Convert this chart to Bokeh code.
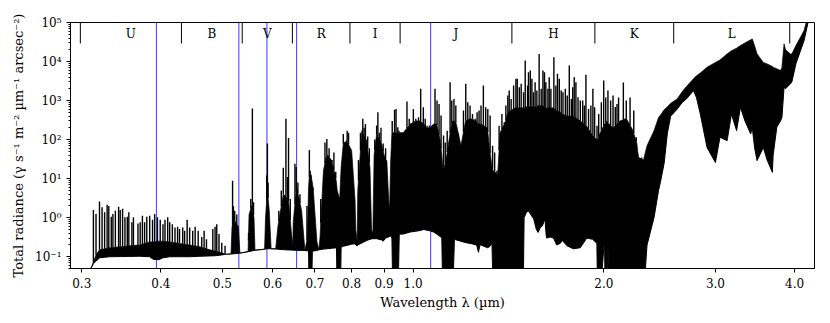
import numpy as np
from bokeh.plotting import figure
from bokeh.models import Range1d, FixedTicker, CustomJSTickFormatter, Span
from bokeh.embed import file_html
from bokeh.resources import INLINE
from bokeh.core.properties import value

# ---------------- data ----------------
# wavelength grid (um), lower edge (continuum / absorption) and top of the dense line forest
wl = [0.3085, 0.311, 0.313, 0.316, 0.318, 0.320, 0.332, 0.345, 0.357, 0.370, 0.384, 0.389, 0.397, 0.403,
      0.413, 0.4285, 0.444, 0.461, 0.478, 0.487, 0.496, 0.504, 0.508, 0.516, 0.518, 0.524, 0.530, 0.533,
      0.549, 0.551, 0.556, 0.561, 0.563, 0.583, 0.585, 0.589, 0.593, 0.597, 0.607, 0.612, 0.624, 0.630,
      0.636, 0.643, 0.646, 0.647, 0.655, 0.667, 0.675, 0.681, 0.684, 0.6855, 0.688, 0.6915, 0.6935, 0.696,
      0.705, 0.710, 0.713, 0.722, 0.731, 0.744, 0.753, 0.757, 0.759, 0.766, 0.768, 0.770, 0.776, 0.786,
      0.800, 0.810, 0.812, 0.816, 0.818, 0.830, 0.845, 0.855, 0.860, 0.864, 0.868, 0.876, 0.892, 0.897,
      0.905, 0.909, 0.915, 0.918, 0.922, 0.926, 0.929, 0.942, 0.947, 0.951, 0.965, 0.990, 1.010, 1.026,
      1.040, 1.050, 1.064, 1.077, 1.090, 1.103, 1.110, 1.114, 1.120, 1.130, 1.150, 1.155, 1.162, 1.170,
      1.190, 1.210, 1.230, 1.260, 1.268, 1.275, 1.280, 1.310, 1.320, 1.332, 1.338, 1.360, 1.372, 1.400,
      1.410, 1.450, 1.476, 1.492, 1.497, 1.510, 1.520, 1.550, 1.565, 1.575, 1.587, 1.600, 1.615, 1.622,
      1.625, 1.645, 1.666, 1.685, 1.707, 1.720, 1.750, 1.790, 1.836, 1.880, 1.920, 1.950, 1.955, 1.974,
      2.005, 2.010, 2.020, 2.030, 2.040, 2.070, 2.120, 2.170, 2.220, 2.255, 2.262, 2.270, 2.310, 2.340,
      2.400, 2.440, 2.456, 2.490, 2.520, 2.550, 2.610, 2.660, 2.700, 2.770, 2.800, 2.840, 2.910, 3.000,
      3.050, 3.130, 3.180, 3.240, 3.285, 3.340, 3.410, 3.430, 3.460, 3.490, 3.570, 3.620, 3.690, 3.700,
      3.750, 3.800, 3.820, 3.850, 3.870, 3.940, 3.960, 4.020, 4.140, 4.200]
low = [0.045, 0.055, 0.066, 0.078, 0.084, 0.094, 0.100, 0.101, 0.102, 0.103, 0.100, 0.086, 0.084, 0.094,
       0.100, 0.100, 0.100, 0.103, 0.105, 0.106, 0.110, 0.114, 0.116, 0.118, 0.118, 0.120, 0.122, 0.124,
       0.135, 0.136, 0.140, 0.145, 0.147, 0.156, 0.157, 0.160, 0.160, 0.160, 0.158, 0.156, 0.152, 0.150,
       0.149, 0.148, 0.147, 0.147, 0.146, 0.145, 0.144, 0.142, 0.140, 0.01, 0.01, 0.01, 0.140, 0.140,
       0.145, 0.150, 0.152, 0.157, 0.160, 0.165, 0.168, 0.170, 0.01, 0.01, 0.01, 0.180, 0.185, 0.195,
       0.210, 0.215, 0.200, 0.190, 0.200, 0.225, 0.260, 0.280, 0.285, 0.290, 0.290, 0.290, 0.270, 0.250,
       0.300, 0.310, 0.320, 0.330, 0.340, 0.300, 0.01, 0.01, 0.01, 0.380, 0.380, 0.430, 0.450, 0.470,
       0.500, 0.480, 0.460, 0.430, 0.380, 0.330, 0.300, 0.01, 0.01, 0.01, 0.01, 0.01, 0.280, 0.270,
       0.250, 0.230, 0.220, 0.200, 0.130, 0.200, 0.200, 0.170, 0.180, 0.220, 0.01, 0.01, 0.01, 0.01,
       0.01, 0.01, 0.01, 0.01, 1.0, 1.37, 1.5, 0.93, 0.5, 0.42, 0.55, 0.62, 0.93, 0.35,
       0.30, 0.32, 0.30, 0.20, 0.22, 0.26, 0.19, 0.16, 0.17, 0.30, 0.28, 0.22, 0.01, 0.01,
       0.30, 0.01, 0.01, 0.20, 0.01, 0.01, 0.01, 0.01, 0.01, 0.01, 0.14, 0.01, 0.01, 0.20,
       1.0, 5.0, 8.0, 25.0, 150.0, 400.0, 600.0, 900.0, 1100.0, 1800.0, 1200.0, 450.0, 63.0, 26.0,
       115.0, 94.0, 450.0, 170.0, 670.0, 300.0, 140.0, 200.0, 60.0, 29.0, 63.0, 30.0, 14.5, 40.0,
       210.0, 300.0, 370.0, 2200.0, 2000.0, 2700.0, 3000.0, 8900.0, 34500.0, 100000.0]
top = [0.045, 0.055, 0.075, 0.11, 0.13, 0.15, 0.17, 0.18, 0.19, 0.20, 0.24, 0.24, 0.25, 0.25,
       0.24, 0.22, 0.20, 0.18, 0.15, 0.14, 0.13, 0.12, 0.116, 0.118, 0.60, 0.80, 0.60, 0.124,
       0.135, 1.2, 2.0, 1.0, 0.147, 0.156, 1.0, 5.0, 1.5, 0.16, 0.16, 0.6, 4.0, 3.5,
       2.7, 0.38, 0.2, 0.8, 6.0, 1.5, 0.144, 0.3, 6.0, 10.0, 16.0, 10.0, 8.0, 5.0,
       0.25, 0.15, 0.3, 16.0, 43.0, 29.0, 13.0, 8.0, 5.0, 3.0, 8.0, 20.0, 78.0, 94.0,
       52.0, 2.7, 0.5, 0.25, 5.0, 170.0, 94.0, 19.0, 0.5, 0.4, 40.0, 140.0, 78.0, 50.0,
       30.0, 29.0, 3.0, 1.5, 30.0, 150.0, 150.0, 150.0, 150.0, 150.0, 150.0, 250.0, 300.0, 300.0,
       250.0, 200.0, 200.0, 250.0, 250.0, 100.0, 40.0, 19.0, 19.0, 40.0, 250.0, 300.0, 300.0, 250.0,
       70.0, 300.0, 350.0, 300.0, 250.0, 250.0, 250.0, 200.0, 60.0, 20.0, 16.0, 13.0, 150.0, 300.0,
       500.0, 650.0, 650.0, 650.0, 650.0, 700.0, 700.0, 700.0, 700.0, 750.0, 750.0, 750.0, 700.0, 650.0,
       650.0, 650.0, 650.0, 550.0, 500.0, 450.0, 400.0, 400.0, 300.0, 220.0, 130.0, 100.0, 100.0, 150.0,
       250.0, 250.0, 300.0, 250.0, 250.0, 200.0, 300.0, 350.0, 180.0, 80.0, 50.0, 35.0, 30.0, 70.0,
       170.0, 370.0, 420.0, 580.0, 700.0, 850.0, 1100.0, 1700.0, 2300.0, 3600.0, 4300.0, 5100.0, 7150.0, 9500.0,
       11000.0, 15700.0, 19000.0, 22000.0, 25700.0, 30000.0, 36000.0, 38000.0, 25000.0, 15700.0, 9500.0, 8700.0, 7500.0, 7150.0,
       6500.0, 5900.0, 7000.0, 28500.0, 20000.0, 15700.0, 15700.0, 25700.0, 62000.0, 150000.0]

# individual emission lines: wavelength (um) and peak radiance
line_wl = [0.313, 0.316, 0.320, 0.323, 0.326, 0.329, 0.331, 0.334, 0.336, 0.339, 0.343, 0.345, 0.348,
           0.351, 0.354, 0.356, 0.360, 0.362, 0.368, 0.371, 0.374, 0.377, 0.380, 0.384, 0.388, 0.391,
           0.395, 0.399, 0.403, 0.406, 0.410, 0.413, 0.417, 0.421, 0.425, 0.428, 0.433, 0.436, 0.440,
           0.444, 0.449, 0.453, 0.458, 0.464, 0.468, 0.472, 0.483, 0.487, 0.490, 0.494, 0.499, 0.505,
           0.519, 0.5205, 0.523, 0.527, 0.550, 0.5545, 0.5577, 0.560, 0.5875, 0.589, 0.5905, 0.614, 0.6195,
           0.624, 0.630, 0.6335, 0.636, 0.640, 0.651, 0.654, 0.658, 0.663, 0.680, 0.686, 0.690, 0.695,
           0.715, 0.726, 0.731, 0.737, 0.745, 0.750, 0.755, 0.776, 0.781, 0.787, 0.791, 0.797, 0.820,
           0.826, 0.833, 0.837, 0.841, 0.848, 0.853, 0.870, 0.876, 0.880, 0.885, 0.890, 0.897, 0.905,
           0.927, 0.935,
           0.940, 0.946, 0.950, 0.957, 0.965, 0.971, 0.978, 0.986, 0.993, 1.001, 1.010, 1.020, 1.028,
           1.038, 1.045, 1.052, 1.061, 1.073, 1.083, 1.091, 1.099, 1.107, 1.117, 1.124, 1.132, 1.144,
           1.151, 1.160, 1.168, 1.179, 1.191, 1.201, 1.211, 1.220, 1.230, 1.241, 1.253, 1.262, 1.271,
           1.280, 1.291, 1.302, 1.312, 1.323, 1.335, 1.345, 1.356,
           1.367, 1.381, 1.393, 1.401, 1.411, 1.418, 1.428, 1.441, 1.453, 1.460, 1.471, 1.481, 1.494,
           1.503, 1.516, 1.521, 1.531, 1.540, 1.549, 1.558, 1.568, 1.581, 1.593, 1.603, 1.612, 1.620,
           1.632, 1.640, 1.650, 1.668, 1.680, 1.690, 1.701, 1.713, 1.724, 1.739, 1.751, 1.764, 1.777,
           1.786, 1.796, 1.807, 1.821, 1.836, 1.852, 1.863, 1.874, 1.892, 1.908, 1.922, 1.934, 1.951,
           1.963, 1.982, 1.999,
           2.014, 2.030, 2.050, 2.068, 2.085, 2.098, 2.110, 2.147, 2.170, 2.200, 2.230, 2.250, 2.295]
line_pk = [1.58, 1.24, 2.6, 1.84, 1.37, 2.15, 2.0, 1.06, 1.24, 1.5, 1.9, 1.58, 1.7,
           1.02, 1.06, 1.37, 0.76, 1.02, 0.71, 0.76, 1.12, 0.76, 1.06, 1.12, 0.88, 1.24,
           1.02, 0.88, 0.68, 0.88, 1.02, 0.76, 0.68, 0.56, 0.59, 0.51, 0.56, 0.46, 0.88,
           0.56, 0.46, 0.59, 0.46, 0.32, 0.46, 0.28, 0.51, 0.59, 0.68, 0.38, 0.23, 0.19,
           8.9, 2.0, 1.5, 1.2, 0.26, 3.0, 630.0, 2.5, 12.0, 80.0, 8.0, 1.5, 5.0,
           19.0, 340.0, 11.0, 110.0, 3.0, 24.0, 20.0, 8.0, 4.0, 2.0, 54.0, 10.0, 5.0,
           3.0, 85.0, 104.0, 60.0, 30.0, 47.0, 15.0, 140.0, 80.0, 170.0, 150.0, 60.0, 30.0,
           150.0, 340.0, 200.0, 250.0, 120.0, 60.0, 100.0, 230.0, 500.0, 150.0, 200.0, 80.0, 60.0,
           300.0, 580.0,
           612.0, 207.0, 170.0, 104.0, 94.0, 154.0, 942.0, 340.0, 228.0, 612.0, 340.0, 373.0, 1995.0,
           673.0, 340.0, 228.0, 230.0, 228.0, 1995.0, 1000.0, 822.0, 412.0, 127.0, 85.0, 170.0, 2940.0,
           1000.0, 1104.0, 745.0, 70.0, 47.0, 555.0, 2680.0, 903.0, 745.0, 456.0, 340.0, 501.0, 555.0,
           745.0, 2427.0, 673.0, 612.0, 412.0, 70.0, 47.0, 16.0,
           228.0, 456.0, 278.0, 745.0, 1343.0, 1803.0, 1104.0, 2427.0, 3600.0, 3600.0, 2190.0, 2680.0, 1633.0,
           10600.0, 2427.0, 5320.0, 5870.0, 3600.0, 1633.0, 2940.0, 1803.0, 15700.0, 1995.0, 5870.0, 5320.0, 2940.0,
           1995.0, 3950.0, 1995.0, 12900.0, 2427.0, 4840.0, 3600.0, 1803.0, 1633.0, 1995.0, 1343.0, 7890.0, 1104.0,
           2190.0, 3950.0, 2940.0, 1216.0, 1000.0, 1000.0, 745.0, 4560.0, 612.0, 745.0, 1995.0, 673.0, 228.0,
           456.0, 903.0, 3257.0,
           1200.0, 1800.0, 1000.0, 1340.0, 680.0, 820.0, 1200.0, 2900.0, 1000.0, 1200.0, 560.0, 115.0, 35.0]

# marked spectral lines (blue)
marker_wl = [0.3935, 0.531, 0.588, 0.655, 1.066]

# photometric band edges and names
band_edges = [0.2985, 0.431, 0.5375, 0.645, 0.795, 0.954, 1.432, 1.936, 2.578, 3.93]
band_names = ["U", "B", "V", "R", "I", "J", "H", "K", "L"]

x_ticks = [0.3, 0.4, 0.5, 0.6, 0.7, 0.8, 0.9, 1.0, 2.0, 3.0, 4.0]
y_ticks = [0.1, 1.0, 10.0, 100.0, 1000.0, 10000.0, 100000.0]

SERIF = "DejaVu Serif"

# ---------------- figure ----------------
p = figure(width=822, height=314, x_axis_type="log", y_axis_type="log",
           x_range=Range1d(0.288, 4.30), y_range=Range1d(0.05, 1e5),
           output_backend="svg", toolbar_location=None,
           min_border_left=70, min_border_right=8, min_border_top=22, min_border_bottom=46)
p.xgrid.visible = False
p.ygrid.visible = False
p.outline_line_color = "black"
p.outline_line_alpha = 1.0
p.outline_line_width = 1
p.background_fill_color = "white"
p.border_fill_color = "white"

for ax in p.axis:
    ax.major_tick_in = 0
    ax.major_tick_out = 4
    ax.minor_tick_in = 0
    ax.minor_tick_out = 2
    ax.axis_line_color = "black"
    ax.major_label_text_font = SERIF
    ax.major_label_text_font_size = "12px"
    ax.major_label_text_color = "black"
    ax.axis_label_text_font = SERIF
    ax.axis_label_text_font_size = "13px"
    ax.axis_label_text_font_style = "normal"
    ax.axis_label_text_color = "black"

p.xaxis.ticker = FixedTicker(ticks=x_ticks, minor_ticks=[])
p.xaxis.formatter = CustomJSTickFormatter(code="return tick.toFixed(1);")
p.xaxis.axis_label = "Wavelength λ (µm)"
p.xaxis.axis_label_standoff = 4

y_minor = [m * t for t in [0.01] + y_ticks for m in range(2, 10)]
p.yaxis.ticker = FixedTicker(ticks=y_ticks, minor_ticks=y_minor)
p.yaxis.formatter = CustomJSTickFormatter(code="""
const sup = {'-':'\u207b','0':'\u2070','1':'\u00b9','2':'\u00b2','3':'\u00b3','4':'\u2074',
             '5':'\u2075','6':'\u2076','7':'\u2077','8':'\u2078','9':'\u2079'};
const e = Math.round(Math.log10(tick));
return '10' + String(e).split('').map(c => sup[c]).join('');
""")
p.yaxis.axis_label = "Total radiance (γ s⁻¹ m⁻² µm⁻¹ arcsec⁻²)"
p.yaxis.axis_label_standoff = 6

# blue marker lines beneath the spectrum
for w in marker_wl:
    p.add_layout(Span(location=w, dimension="height", line_color="#3838ff",
                      line_width=1, level="underlay"))

wl_a = np.array(wl)
low_a = np.array(low)
top_a = np.array(top)

p.varea(x=wl_a, y1=low_a, y2=top_a, fill_color="black")
p.line(wl_a, low_a, line_color="black", line_width=1)
p.line(wl_a, top_a, line_color="black", line_width=0.7)

lw = np.array(line_wl)
start = np.exp(np.interp(np.log(lw), np.log(wl_a), np.log(top_a)))
p.segment(x0=lw, y0=start, x1=lw, y1=np.array(line_pk), line_color="black", line_width=1.4)

# band separators and labels
sep_bottom = 2.9e4
edges = np.array(band_edges)
p.segment(x0=edges, y0=[sep_bottom] * len(edges), x1=edges, y1=[1e5] * len(edges),
          line_color="black", line_width=1)
centers = np.sqrt(edges[:-1] * edges[1:])
p.text(x=centers, y=[5.2e4] * len(centers), text=band_names, text_align="center",
       text_baseline="middle", text_font=value(SERIF), text_font_size="12px", text_color="black")

open("out.html", "w").write(file_html(p, INLINE))
